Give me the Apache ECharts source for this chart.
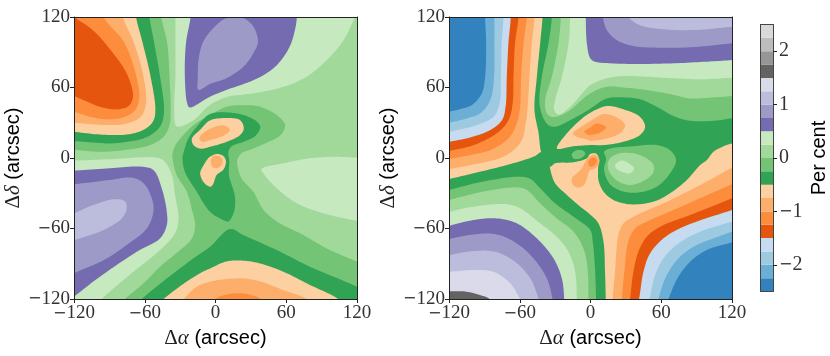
<!DOCTYPE html>
<html><head><meta charset="utf-8">
<script src="https://cdn.jsdelivr.net/npm/echarts@6/dist/echarts.min.js"></script>
<style>html,body{margin:0;padding:0;background:#fff}#c{width:830px;height:356px}</style>
</head><body><div id="c"></div>
<script>
// Colour bands, bottom to top of the colour bar
const bandColors = ['#3182bd','#6baed6','#9ecae1','#c6dbef','#e6550d','#fd8d3c','#fdae6b','#fdd0a2','#31a354','#74c476','#a1d99b','#c7e9c0','#756bb1','#9e9ac8','#bcbddc','#dadaeb','#636363','#969696','#bdbdbd','#d9d9d9'];
const bandEdges = [-2.5,-2.25,-2,-1.75,-1.5,-1.25,-1,-0.75,-0.5,-0.25,0,0.25,0.5,0.75,1,1.25,1.5,1.75,2,2.25,2.5];
const barTicks = [-2,-1,0,1,2];

// LEFT PANEL: contour outlines in (arcsec, arcsec)
const full = [[-135,-135],[135,-135],[135,135],[-135,135]];
const lTopC7 = [[-34,135],[-34,120],[-34,98],[-34,69],[-35,41],[-33,27],[-19,32],[-5,45],[10,52],[24,54],[38,56],[52,59],[66,63.5],[80,71],[94,83],[108.5,100],[118.5,120.6],[125,135]];
const lTop75 = [[-21,135],[-21,121],[-25,98],[-26,69],[-24,46.5],[-22,43],[-5,52],[9.5,58],[24,63],[38,69],[52,79],[63,95],[68,112],[69,121],[69,135]];
const lTop9e = [[-4.6,107.5],[-11,97.6],[-14.5,83],[-15,69],[-14.5,58],[-4.6,63],[9.5,68],[24,78],[32,89],[36,99],[32,112],[24,119],[15,120],[7,118]];
const lLowC7 = [[-135,-2],[-120,-2.2],[-89.5,-1],[-50,0.3],[-43.6,-2.5],[-37,-14.4],[-34.3,-31.5],[-31.4,-51.4],[-34.3,-64],[-47,-78.3],[-69.6,-96.8],[-96.5,-120],[-110,-135],[-135,-135]];
const lLow75 = [[-135,-11],[-120,-10.7],[-89.5,-8.8],[-64,-7.3],[-52.7,-10.2],[-45.6,-25.8],[-41.3,-45.7],[-41.3,-57],[-47,-68.4],[-66.8,-79.8],[-98,-101],[-120,-118],[-135,-130]];
const lLow9e = [[-135,-24],[-120,-22.4],[-89.5,-18.7],[-71,-16.7],[-61,-21.5],[-54,-34.3],[-52.7,-45.7],[-58.3,-60],[-75.3,-74],[-95,-87],[-120,-98],[-135,-106]];
const lLowBc = [[-135,-52],[-120,-47],[-103.6,-40],[-85,-35],[-76.7,-37],[-75.3,-43],[-79.5,-51.4],[-95,-61.3],[-120,-70],[-135,-75]];
const lRightC7 = [[39,-9.4],[57.6,-4.5],[80,-0.3],[100,1],[120,0.3],[135,0],[135,-55],[120,-53.4],[91.5,-47],[69,-38.6],[52,-25.8],[42,-15]];
const lBig74 = [[-36.5,4],[-34,11],[-28.6,18],[-18.7,28],[-4.6,36.5],[9.5,43.6],[23.6,45],[37.8,43.6],[52,36.5],[59,28],[55.3,19.5],[43.4,13],[29.3,7],[22,4],[18.5,-1.8],[18.5,-6],[22,-17.3],[32,-28.6],[40.6,-44],[52,-54],[74.5,-65.6],[94.4,-77],[120,-88.3],[135,-95],[135,-135],[-90,-135],[-76.8,-120],[-61,-106.7],[-47,-92.5],[-30,-78.3],[-20,-68.4],[-17.3,-57],[-20,-44],[-24.4,-28.6],[-33,-14.4],[-36.5,0]];
const lTl74 = [[-47,135],[-46,120],[-41,98],[-39,69],[-38,41],[-39,28],[-44,18],[-55.5,11],[-75,7],[-98,5.3],[-120,7],[-135,8],[-135,135]];
const lTl31 = [[-57,135],[-56,120],[-52,98],[-47,69],[-43.6,41],[-45.6,29.4],[-51,22.3],[-61,16.7],[-75,13.8],[-89.5,12.4],[-120,14.4],[-135,15],[-135,135]];
const lTl7 = [[-69,135],[-67.4,120],[-61.7,97.6],[-55,69],[-51,41],[-53,31],[-61,24],[-75,20],[-98,20],[-120,22.3],[-135,24],[-135,135]];
const lTl6 = [[-82,135],[-78.7,120],[-69,97.6],[-61,69],[-59,46.5],[-63.4,35],[-75,29.4],[-89.5,28],[-120,30],[-135,31],[-135,135]];
const lTl5 = [[-99,135],[-95,120],[-77,97.6],[-67,69],[-64.6,52],[-68,41],[-78,34.6],[-92,33],[-106,35],[-120,39.4],[-135,44],[-135,135]];
const lTl4 = [[-135,131],[-120,120],[-103.6,108.4],[-89.5,92.5],[-75.3,72],[-70,51.6],[-74,44],[-83.8,41.4],[-98,43.6],[-112,49.3],[-120,52.7],[-135,58]];
const lMid31 = [[-27,5],[-23,16.7],[-16,26.6],[-4.7,37.4],[9.5,38.8],[24,36.5],[35,31],[38,26],[33.5,18.6],[24,13.8],[13.7,10],[11,5.3],[11.7,-3],[11.4,-14.5],[16.5,-33],[15.7,-45.7],[10.9,-54],[6.6,-52.8],[-4.7,-45.7],[-16,-28.6],[-26,-11.6],[-28,0]];
const lBot31 = [[-62.6,-120],[-47,-107],[-18.7,-85.4],[-4.6,-75.5],[12.3,-60.4],[23.6,-65.6],[52,-78.4],[80,-92.5],[120,-109.6],[135,-118],[135,-135],[-78,-135]];
const lBot7 = [[-44,-120],[-27,-107],[-13,-98],[-4.6,-94],[9.5,-88],[23.6,-87.4],[37.8,-89.7],[57.6,-96.8],[80,-108],[104,-120],[120,-135],[-60,-135]];
const lBot6 = [[-27,-120],[-16,-109.6],[-4.6,-105.3],[9.5,-103],[23.6,-102.5],[38,-105],[57.6,-112.5],[77.4,-120],[95,-135],[-42,-135]];
const lBot5 = [[0,-120],[8,-116.5],[20,-115],[30,-116.5],[38,-120],[45,-135],[-5,-135]];
const lUp7 = [[-20,16.5],[-13,24],[-4.7,32],[9.5,34],[20.8,32.3],[24,25],[20.8,19.5],[9.5,13.8],[-4.7,9.5],[-13,8],[-18.7,11]];
const lUp6 = [[-13.6,17.5],[-4.6,25],[6.6,27.8],[12.3,23.8],[6.6,19],[-4.7,15.2],[-11.7,13.8]];
const lLo7 = [[-4.7,1],[1,3.5],[6.6,1.7],[8.9,-3],[6.6,-10],[1,-14.4],[-2.4,-23],[-4.6,-24.4],[-10,-20.7],[-13,-13],[-10,-6],[-6,0]];
const lLo6 = [[-4,-3],[-2.4,1.2],[1,2],[5,0.3],[6,-3.7],[3.8,-7.4],[0.4,-8.8],[-2.7,-7.4]];
const leftLayers = [[10,full],[11,lTopC7],[12,lTop75],[13,lTop9e],[11,lLowC7],[12,lLow75],[13,lLow9e],[14,lLowBc],[11,lRightC7],[9,lBig74],[9,lTl74],[8,lTl31],[7,lTl7],[6,lTl6],[5,lTl5],[4,lTl4],[8,lMid31],[8,lBot31],[7,lBot7],[6,lBot6],[5,lBot5],[7,lUp7],[6,lUp6],[7,lLo7],[6,lLo6]];

// RIGHT PANEL
const rTl6 = [[-47.5,135],[-47.5,120],[-49.8,97.6],[-51.8,69],[-53.5,40.8],[-55,29],[-58.3,15],[-66.8,5.3],[-76.7,-0.2],[-99,-5.4],[-120,-9.6],[-135,-13],[-135,135]];
const rTl5 = [[-54,135],[-54,120],[-56.8,97.6],[-58.8,69],[-60,40.8],[-63,28],[-69.6,16.7],[-85,6.7],[-102,2.5],[-120,-1],[-135,-4],[-135,135]];
const rTl4 = [[-61,135],[-61,120],[-64,97.6],[-65.3,69],[-66,46.5],[-69.6,32],[-79.5,21],[-99,11],[-120,6],[-135,3],[-135,135]];
const rTl3 = [[-67.6,135],[-67.6,120],[-69.6,97.6],[-71,69],[-72,43.6],[-75,32.3],[-85,23.8],[-102,17.5],[-120,13.8],[-135,11],[-135,135]];
const rTl2 = [[-73.8,135],[-73.8,120],[-75.3,97.6],[-76,69],[-77,46.5],[-82.3,35],[-96.5,28],[-120,22.3],[-135,19],[-135,135]];
const rTl1 = [[-81.5,135],[-81.5,120],[-81.5,97.6],[-81.8,69],[-85,49.3],[-93.6,38],[-105,33.7],[-120,30],[-135,27],[-135,135]];
const rTl0 = [[-89.4,135],[-89.4,120],[-88.5,97.6],[-89.4,69],[-92.2,55],[-100.7,45],[-110.6,41.6],[-120,39.4],[-135,36],[-135,135]];
const rBr6 = [[18,-135],[18.8,-120],[20.8,-96.8],[23.6,-65.6],[28,-55.6],[39.2,-48.5],[64.7,-37.2],[93,-23],[119.9,-8.2],[135,0],[135,-135]];
const rBr5 = [[25,-135],[26.5,-120],[28.7,-96.8],[32,-71.2],[37.8,-60],[47.7,-54.2],[70.3,-44.3],[95.8,-32.9],[119.9,-22.4],[135,-16],[135,-135]];
const rBr4 = [[32,-135],[33.6,-120],[36.4,-96.8],[40.6,-79.8],[47.7,-67],[59,-58.5],[84.5,-48.5],[119.9,-34.3],[135,-28],[135,-135]];
const rBr3 = [[38,-135],[41.2,-120],[44.9,-96.8],[50.5,-81.2],[61.9,-68.4],[78.8,-58.5],[119.9,-44.3],[135,-39],[135,-135]];
const rBr2 = [[46,-135],[50,-120],[54.8,-99.6],[61.9,-85.4],[74.6,-72.7],[93,-62.7],[119.9,-54.2],[135,-50],[135,-135]];
const rBr1 = [[53,-135],[57.6,-120],[63.3,-102.5],[73.2,-86.9],[87.3,-75.5],[104.3,-68.4],[119.9,-62.7],[135,-58],[135,-135]];
const rBr0 = [[60,-135],[66.1,-120],[73.7,-102.5],[84.5,-88.3],[98.6,-78.3],[119.9,-71.8],[135,-67],[135,-135]];
const rLow8 = [[-135,-22],[-120,-18],[-99.3,-13],[-71,-6],[-47,1.7],[-42,5],[-36,3],[-34,-10.2],[-30,-21.5],[-20,-31.5],[-8.7,-41.4],[-0.4,-48],[6.7,-55.6],[11,-71.2],[12.3,-96.8],[12.9,-120],[13,-135],[-135,-135]];
const rLow9 = [[-135,-31],[-120,-27.2],[-90.8,-20],[-59.7,-15.9],[-51,-17.8],[-42.7,-25.8],[-30,-38.6],[-14.4,-50],[-0.2,-61.3],[1.9,-71.2],[3.8,-94],[4.7,-120],[5,-135],[-135,-135]];
const rLow10 = [[-135,-39],[-120,-35.7],[-90.8,-28.6],[-62.5,-25],[-54,-27.2],[-42.7,-38.6],[-28.6,-51.4],[-14.4,-62.7],[-6,-77],[-2.5,-94],[-1.7,-120],[-1.5,-135],[-135,-135]];
const rLow11 = [[-135,-49],[-120,-45.7],[-99.3,-41.4],[-71,-39.4],[-59.7,-42.8],[-42.7,-55.6],[-28.6,-67],[-18.7,-79.8],[-13,-96.8],[-11.6,-120],[-11.5,-135],[-135,-135]];
const rLow12 = [[-135,-61],[-120,-57.6],[-99.3,-52.8],[-79.5,-51.4],[-62.5,-55.6],[-45.5,-68.4],[-31.4,-85.4],[-24.3,-102.5],[-22.3,-120],[-22,-135],[-135,-135]];
const rLow13 = [[-135,-72],[-120,-69],[-99.3,-65],[-79.5,-65],[-62.5,-72.7],[-48.4,-85.4],[-37,-102.5],[-32.2,-120],[-30,-135],[-135,-135]];
const rLow14 = [[-135,-85],[-120,-82.6],[-99.3,-79.2],[-81,-79.8],[-64,-88.3],[-51,-102.5],[-44,-120],[-40,-135],[-135,-135]];
const rLow15 = [[-135,-98],[-120,-96.8],[-99.3,-95.4],[-82.3,-96.8],[-68,-106.7],[-59.7,-120],[-52,-135],[-135,-135]];
const rLow16 = [[-135,-113],[-120,-113.3],[-105,-113.8],[-93.6,-116.7],[-85.7,-120],[-78,-135],[-135,-135]];
const rUp8 = [[-40.7,135],[-40.7,120],[-42.7,97.6],[-45.5,69],[-47.5,40.8],[-44,21],[-41.9,5.3],[-38,-2],[-34,-7.3],[-30,-4.5],[-14.4,-3.6],[-3,-0.2],[-0.4,3.3],[4.7,3.8],[7.5,-1.7],[6.7,-6],[6.4,-11.6],[6.7,-18.7],[11,-28.6],[19.4,-35.7],[33.6,-39.4],[53.4,-37.2],[67.5,-30],[81.7,-18.7],[93,-6],[98.6,-1.8],[104.3,5.3],[112.8,10],[119.9,12.4],[135,15],[135,135]];
const rUp9 = [[-32.8,135],[-32.8,120],[-35.6,97.6],[-41.3,69],[-43.3,46.5],[-39.9,33.7],[-35.6,28],[-30,26.6],[-14.4,33.7],[-0.2,42],[13.8,50.7],[27.9,51.6],[42,50],[56.2,43.6],[70.4,35.7],[84.5,31.7],[104.3,31.7],[119.9,33.7],[135,35],[135,135]];
const rUp10 = [[-25.2,135],[-25.2,120],[-27.2,97.6],[-32.8,69],[-38.5,49.3],[-37,38],[-32.8,35],[-21.5,38],[-0.2,55],[13.8,60.7],[27.9,60],[47.7,57.8],[67.5,54.4],[84.5,50.7],[104.3,51.6],[119.9,52.7],[135,54],[135,135]];
const rUp11 = [[-17.3,135],[-17.3,120],[-18.6,97.6],[-24.3,69],[-30,49.3],[-30.8,40.8],[-27,37],[-17.2,43.6],[-5.9,56.4],[-0.2,62],[13.8,67.8],[27.9,69.8],[47.7,69.2],[70.4,67.8],[93,67],[119.9,68.3],[135,69],[135,135]];
const rUp12 = [[-4,135],[-4,120],[-3.1,97.6],[-0.2,84.8],[3.8,82],[16.6,80.6],[42,80],[70.4,80.6],[98.7,82],[119.9,83.4],[135,85],[135,135]];
const rUp13 = [[9,135],[10.4,120],[13.8,109],[22.2,100.4],[36.4,95.3],[56.2,93.9],[84.5,94.2],[119.9,97.6],[135,99],[135,135]];
const rUp14 = [[25,135],[32.1,120],[42,113],[61.9,109.5],[90.2,109],[119.9,111.8],[135,113],[135,135]];
const rLobeA7 = [[-28.5,8.1],[-20,21],[-8.7,32.3],[-0.2,38.5],[13.8,44.2],[27.9,41.4],[42,35],[46.3,26.6],[42,19.5],[27.9,13.8],[11,11],[-0.4,11],[-14.4,10]];
const rLobeA6 = [[-15,21],[-8.7,26],[-0.2,31.4],[11,37.4],[22.2,34.6],[29.3,28],[25,21],[13.8,16.7],[-0.4,14.7],[-3,15.8],[-11.6,18]];
const rLobeA5 = [[-5.3,22.3],[-0.2,26],[5.3,29.4],[13.2,26],[8,21.5],[-0.4,19.5],[-1.7,19.5]];
const rDot9 = [[-15.8,3.3],[-11.6,6.7],[-5.9,6],[-4.5,3.3],[-8.7,-0.4],[-14.4,-0.4]];
const rBlob9 = [[11.5,5.3],[16.6,8],[36.4,10],[56.2,11],[67.5,6.7],[72.6,-1.8],[67.5,-13],[56.2,-24.4],[42,-29.2],[28,-28.6],[16.6,-22.4],[11.5,-10],[13.2,-0.2]];
const rBlob10 = [[25,4],[36.4,4],[47.7,-0.4],[53.4,-6],[52.8,-13],[44.9,-19.5],[33.6,-23],[23.7,-20],[16.6,-13],[14.6,-5.3],[17.1,0.3]];
const rBlob11 = [[20.8,-6],[26.5,-2.2],[33.6,-5.4],[37,-8.8],[33.6,-13],[26.5,-11.6],[22.2,-9.3]];
const rTail6 = [[-15.8,-17.3],[-11.6,-13],[-7.3,-8.8],[-3.6,-1.7],[-0.2,1.7],[3.8,2.6],[7,-0.2],[7,-5.4],[3,-9.3],[-0.4,-10.2],[-3,-17.3],[-5.9,-23.5],[-11.6,-25],[-15.2,-22.4]];
const rTail5 = [[-0.4,-0.8],[3.8,0.3],[5.3,-3.6],[2.4,-6.8],[-0.4,-7.4],[-2,-4]];
const rightLayers = [[7,full],[6,rTl6],[5,rTl5],[4,rTl4],[3,rTl3],[2,rTl2],[1,rTl1],[0,rTl0],[6,rBr6],[5,rBr5],[4,rBr4],[3,rBr3],[2,rBr2],[1,rBr1],[0,rBr0],[8,rLow8],[9,rLow9],[10,rLow10],[11,rLow11],[12,rLow12],[13,rLow13],[14,rLow14],[15,rLow15],[16,rLow16],[8,rUp8],[9,rUp9],[10,rUp10],[11,rUp11],[12,rUp12],[13,rUp13],[14,rUp14],[7,rLobeA7],[6,rLobeA6],[5,rLobeA5],[9,rDot9],[9,rBlob9],[10,rBlob10],[11,rBlob11],[6,rTail6],[5,rTail5]];

const serif = '"Liberation Serif","DejaVu Serif",serif';
const sans = '"Liberation Sans",sans-serif';
const ink = '#222';
const tickText = v => v < 0 ? '{m|\u2212}' + (-v) : String(v);
const tickRich = { m:{fontFamily:'"DejaVu Sans"',fontSize:16,color:'#333'} };

// Smooth closed outline: centripetal Catmull-Rom between read points; off-plot guide points stay straight.
function isGuide(d){ return Math.abs(d[0]) >= 134 || Math.abs(d[1]) >= 134; }
function outline(raw, api){
  const n = raw.length, px = raw.map(p => api.coord(p)), out = [];
  const lerp = (a,b,ta,tb,t) => { const k = tb===ta ? 0 : (t-ta)/(tb-ta); return [a[0]+(b[0]-a[0])*k, a[1]+(b[1]-a[1])*k]; };
  for (let i=0;i<n;i++){
    const p1=px[i], p2=px[(i+1)%n];
    if (isGuide(raw[i]) || isGuide(raw[(i+1)%n])) { out.push(p1); continue; }
    const p0=px[(i-1+n)%n], p3=px[(i+2)%n];
    const step=(a,b)=>Math.max(Math.pow(Math.hypot(a[0]-b[0],a[1]-b[1]),0.5),1e-3);
    const t0=0,t1=t0+step(p0,p1),t2=t1+step(p1,p2),t3=t2+step(p2,p3);
    for (let s=0;s<10;s++){
      const t=t1+(t2-t1)*s/10;
      const a1=lerp(p0,p1,t0,t1,t),a2=lerp(p1,p2,t1,t2,t),a3=lerp(p2,p3,t2,t3,t);
      const b1=lerp(a1,a2,t0,t2,t),b2=lerp(a2,a3,t1,t3,t);
      out.push(lerp(b1,b2,t1,t2,t));
    }
  }
  return out;
}
function contourSeries(layers, axisIndex) {
  return {
    type: 'custom', coordinateSystem: 'cartesian2d', xAxisIndex: axisIndex, yAxisIndex: axisIndex,
    clip: true, silent: true, animation: false, z: 2,
    data: layers.map(l => [l[1][0][0], l[1][0][1], l[0]]),
    renderItem(params, api) {
      const layer = layers[params.dataIndex];
      return { type: 'polygon', shape: { points: outline(layer[1], api) }, style: { fill: bandColors[layer[0]] } };
    }
  };
}
const richName = () => ({ g:{fontFamily:serif,fontSize:21,color:ink}, i:{fontFamily:serif,fontStyle:'italic',fontSize:21,color:ink}, t:{fontFamily:sans,fontSize:20,color:'#000'} });
const mainLabel = {formatter:tickText,rich:tickRich,fontFamily:serif,fontSize:19,color:'#333',hideOverlap:false,showMinLabel:true,showMaxLabel:true};
function mainX(grid, nameText, sym){ return {
  type:'value', gridIndex:grid, min:-120, max:120, interval:60, z:5,
  name:'{g|\u0394}{i|'+sym+'}{t| '+nameText+'}', nameLocation:'middle', nameGap:28,
  nameTextStyle:{rich:richName()},
  axisLine:{show:true,onZero:false,lineStyle:{color:ink,width:1}},
  axisTick:{show:true,length:4,inside:false,lineStyle:{color:ink}},
  splitLine:{show:false},
  axisLabel:Object.assign({margin:5},mainLabel)
};}
function mainY(grid, nameText, sym){ return {
  type:'value', gridIndex:grid, min:-120, max:120, interval:60, z:5,
  name:'{g|\u0394}{i|'+sym+'}{t| '+nameText+'}', nameLocation:'middle', nameGap:49,
  nameTextStyle:{rich:richName()},
  axisLine:{show:true,onZero:false,lineStyle:{color:ink,width:1}},
  axisTick:{show:true,length:4,lineStyle:{color:ink}},
  splitLine:{show:false},
  axisLabel:Object.assign({margin:4},mainLabel)
};}
const frameX = g => ({type:'value',gridIndex:g,min:-120,max:120,position:'top',z:5,axisLine:{show:true,onZero:false,lineStyle:{color:ink,width:1}},axisTick:{show:false},axisLabel:{show:false},splitLine:{show:false}});
const frameY = g => ({type:'value',gridIndex:g,min:-120,max:120,position:'right',z:5,axisLine:{show:true,onZero:false,lineStyle:{color:ink,width:1}},axisTick:{show:false},axisLabel:{show:false},splitLine:{show:false}});

const chart = echarts.init(document.getElementById('c'), null, {renderer:'canvas'});
chart.setOption({
  animation:false, backgroundColor:'#fff',
  grid:[
    {left:74,top:17,width:283,height:282},
    {left:449,top:17,width:283,height:282},
    {left:760.5,top:24.5,width:13,height:267}
  ],
  xAxis:[ mainX(0,'(arcsec)','\u03b1'), mainX(1,'(arcsec)','\u03b1'),
    {type:'value',gridIndex:2,min:0,max:1,z:5,axisLine:{show:true,onZero:false,lineStyle:{color:'#444'}},axisTick:{show:false},axisLabel:{show:false},splitLine:{show:false}},
    frameX(0), frameX(1),
    {type:'value',gridIndex:2,min:0,max:1,position:'top',z:5,axisLine:{show:true,onZero:false,lineStyle:{color:'#444'}},axisTick:{show:false},axisLabel:{show:false},splitLine:{show:false}}
  ],
  yAxis:[ mainY(0,'(arcsec)','\u03b4'), mainY(1,'(arcsec)','\u03b4'),
    {type:'value',gridIndex:2,min:-2.5,max:2.5,position:'right',z:5,
     axisLine:{show:true,onZero:false,lineStyle:{color:'#444'}},
     axisTick:{show:true,length:4,lineStyle:{color:ink},customValues:barTicks},
     axisLabel:{formatter:tickText,rich:tickRich,fontFamily:serif,fontSize:20,color:'#333',margin:6,customValues:barTicks},
     splitLine:{show:false},
     name:'Per cent',nameLocation:'middle',nameGap:36,nameRotate:90,nameTextStyle:{fontFamily:sans,fontSize:20,color:'#000'}},
    frameY(0), frameY(1),
    {type:'value',gridIndex:2,min:-2.5,max:2.5,position:'left',z:5,axisLine:{show:true,onZero:false,lineStyle:{color:'#444'}},axisTick:{show:false},axisLabel:{show:false},splitLine:{show:false}}
  ],
  series:[
    contourSeries(leftLayers,0),
    contourSeries(rightLayers,1),
    {type:'custom',coordinateSystem:'cartesian2d',xAxisIndex:2,yAxisIndex:2,clip:true,silent:true,animation:false,z:2,
     data:bandColors.map((c,i)=>[0,bandEdges[i],bandEdges[i+1]]),
     renderItem(params,api){
       const a=api.coord([0,api.value(1)]), b=api.coord([1,api.value(2)]);
       return {type:'rect',shape:{x:a[0],y:b[1],width:b[0]-a[0],height:a[1]-b[1]},style:{fill:bandColors[params.dataIndex]}};
     }}
  ]
});
</script></body></html>
